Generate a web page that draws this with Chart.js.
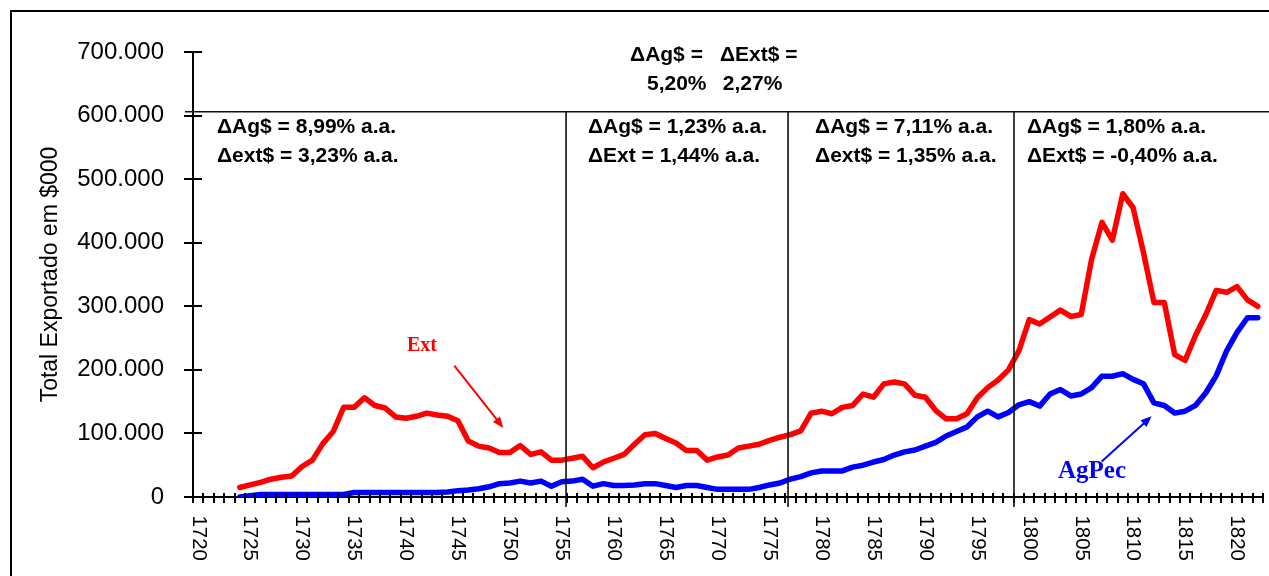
<!DOCTYPE html>
<html><head><meta charset="utf-8">
<script src="https://cdn.jsdelivr.net/npm/chart.js@4.4.1/dist/chart.umd.min.js"></script>
<style>
html,body{margin:0;padding:0;background:#fff;overflow:hidden;}
#wrap{position:relative;width:1269px;height:576px;overflow:hidden;}
#frame{position:absolute;left:10px;top:10px;width:1400px;height:700px;border-left:2px solid #000;border-top:2px solid #000;pointer-events:none;}
canvas{position:absolute;left:0;top:0;}
</style></head><body>
<div id="wrap"><canvas id="c" width="1269" height="576"></canvas><div id="frame"></div></div>
<script>
// ---- data ----
const years = [1720,1721,1722,1723,1724,1725,1726,1727,1728,1729,
  1730,1731,1732,1733,1734,1735,1736,1737,1738,1739,
  1740,1741,1742,1743,1744,1745,1746,1747,1748,1749,
  1750,1751,1752,1753,1754,1755,1756,1757,1758,1759,
  1760,1761,1762,1763,1764,1765,1766,1767,1768,1769,
  1770,1771,1772,1773,1774,1775,1776,1777,1778,1779,
  1780,1781,1782,1783,1784,1785,1786,1787,1788,1789,
  1790,1791,1792,1793,1794,1795,1796,1797,1798,1799,
  1800,1801,1802,1803,1804,1805,1806,1807,1808,1809,
  1810,1811,1812,1813,1814,1815,1816,1817,1818,1819,
  1820,1821,1822];

const extValues = [null,null,null,null,15000,19000,23000,28000,31000,33000,
  48000,58000,84000,103000,141000,141000,156000,144000,140000,126000,
  124000,127000,132000,129000,127000,120000,88000,80000,77000,70000,
  70000,81000,67000,71000,58000,58000,61000,64000,46000,55000,
  61000,67000,83000,98000,100000,92000,85000,73000,73000,58000,
  63000,66000,77000,80000,83000,89000,94000,98000,104000,132000,
  135000,131000,141000,144000,162000,157000,178000,181000,178000,160000,
  157000,136000,123000,123000,131000,156000,172000,184000,200000,230000,
  279000,272000,283000,294000,284000,287000,374000,432000,404000,477000,
  455000,384000,306000,306000,224000,215000,254000,287000,325000,322000,
  331000,310000,300000];

const agPecValues = [null,null,null,null,0,2000,4000,4000,4000,4000,
  4000,4000,4000,4000,4000,7000,7000,7000,7000,7000,
  7000,7000,7000,7000,8000,10000,11000,13000,16000,21000,
  22000,25000,22000,25000,17000,24000,25000,28000,17000,21000,
  18000,18000,19000,21000,21000,18000,15000,18000,18000,15000,
  12000,12000,12000,12000,15000,19000,22000,28000,32000,38000,
  41000,41000,41000,47000,50000,55000,59000,66000,71000,74000,
  80000,86000,96000,103000,110000,126000,135000,126000,133000,145000,
  150000,143000,162000,169000,159000,162000,172000,190000,190000,194000,
  185000,178000,148000,144000,132000,135000,144000,164000,191000,230000,
  259000,282000,282000];

const yTickValues = [0,100000,200000,300000,400000,500000,600000,700000];
const seriesNames = ['Ext', 'AgPec'];
const periodNotes = [
  ['ΔAg$ = 8,99% a.a.', 'Δext$ = 3,23% a.a.'],
  ['ΔAg$ = 1,23% a.a.', 'ΔExt = 1,44% a.a.'],
  ['ΔAg$ = 7,11% a.a.', 'Δext$ = 1,35% a.a.'],
  ['ΔAg$ = 1,80% a.a.', 'ΔExt$ = -0,40% a.a.']
];
const overallNote = [['ΔAg$ =', '5,20%'], ['ΔExt$ =', '2,27%']];

// ---- helpers ----
function fmtThousands(v){ return String(v).replace(/\B(?=(\d{3})+(?!\d))/g, '.'); }
const SANS = '"Liberation Sans", Arial, sans-serif';
const SERIF = '"Liberation Serif", "Times New Roman", serif';

function arrow(ctx, x1, y1, x2, y2, color){
  const a = Math.atan2(y2 - y1, x2 - x1), L = 11, W = 4.5;
  ctx.strokeStyle = color; ctx.fillStyle = color; ctx.lineWidth = 2;
  ctx.beginPath(); ctx.moveTo(x1, y1);
  ctx.lineTo(x2 - L * 0.8 * Math.cos(a), y2 - L * 0.8 * Math.sin(a)); ctx.stroke();
  ctx.beginPath(); ctx.moveTo(x2, y2);
  ctx.lineTo(x2 - L * Math.cos(a) + W * Math.sin(a), y2 - L * Math.sin(a) - W * Math.cos(a));
  ctx.lineTo(x2 - L * Math.cos(a) - W * Math.sin(a), y2 - L * Math.sin(a) + W * Math.cos(a));
  ctx.closePath(); ctx.fill();
}

const annotPlugin = {
  id: 'annot',
  afterDraw(chart){
    const {ctx, chartArea: ca, scales: {x, y}} = chart;
    ctx.save();
    // crossing tick marks
    ctx.strokeStyle = '#000'; ctx.lineWidth = 2;
    ctx.beginPath();
    y.ticks.forEach(t => {
      const py = Math.round(y.getPixelForValue(t.value));
      ctx.moveTo(ca.left - 9, py); ctx.lineTo(ca.left + 9, py);
    });
    const n = years.length;
    for (let i = 0; i <= n; i++) {
      const px = Math.round(x.getPixelForDecimal(i / n));
      ctx.moveTo(px, ca.bottom - 4); ctx.lineTo(px, ca.bottom + 6);
    }
    ctx.stroke();

    // period separators
    const topY = y.getPixelForValue(606000);
    ctx.lineWidth = 1.6; ctx.strokeStyle = '#111';
    ctx.beginPath();
    ctx.moveTo(ca.left - 8, topY); ctx.lineTo(chart.width, topY);
    [35.41, 56.78, 78.53].forEach(v => {
      const px = x.getPixelForValue(v);
      ctx.moveTo(px, topY); ctx.lineTo(px, ca.bottom + 10);
    });
    ctx.stroke();

    // period texts
    ctx.fillStyle = '#000';
    ctx.font = 'bold 21px ' + SANS;
    ctx.textAlign = 'left'; ctx.textBaseline = 'alphabetic';
    const noteX = [1.81, 37.52, 59.38, 79.78];
    periodNotes.forEach((lines, k) => {
      const px = x.getPixelForValue(noteX[k]);
      ctx.fillText(lines[0], px, y.getPixelForValue(573000));
      ctx.fillText(lines[1], px, y.getPixelForValue(527000));
    });
    // overall note
    const ovX = [[41.57, 43.2], [50.23, 50.5]];
    overallNote.forEach((col, k) => {
      ctx.fillText(col[0], x.getPixelForValue(ovX[k][0]), y.getPixelForValue(686000));
      ctx.fillText(col[1], x.getPixelForValue(ovX[k][1]), y.getPixelForValue(640000));
    });

    // series labels and arrows
    ctx.font = 'bold 20px ' + SERIF;
    ctx.fillStyle = '#ff0000';
    ctx.fillText(seriesNames[0], x.getPixelForValue(20.1), y.getPixelForValue(229000));
    arrow(ctx, x.getPixelForValue(24.65), y.getPixelForValue(206800),
               x.getPixelForValue(29.37), y.getPixelForValue(108700), '#ff0000');
    ctx.font = 'bold 25px ' + SERIF;
    ctx.fillStyle = '#0000ff';
    ctx.fillText(seriesNames[1], x.getPixelForValue(82.77), y.getPixelForValue(30000));
    arrow(ctx, x.getPixelForValue(86.97), y.getPixelForValue(56000),
               x.getPixelForValue(91.78), y.getPixelForValue(127000), '#0000ff');
    ctx.restore();
  }
};

new Chart(document.getElementById('c'), {
  type: 'line',
  data: {
    labels: years,
    datasets: [
      { label: seriesNames[0], data: extValues, borderColor: '#ff0000', backgroundColor: '#ff0000',
        borderWidth: 5.5, pointRadius: 0, tension: 0, borderJoinStyle: 'round', borderCapStyle: 'round', fill: false },
      { label: seriesNames[1], data: agPecValues, borderColor: '#0000ff', backgroundColor: '#0000ff',
        borderWidth: 5.5, pointRadius: 0, tension: 0, borderJoinStyle: 'round', borderCapStyle: 'round', fill: false }
    ]
  },
  options: {
    responsive: false, animation: false, devicePixelRatio: 1,
    layout: { padding: { left: 0, top: 52, right: 6, bottom: 0 } },
    plugins: { legend: { display: false }, tooltip: { enabled: false } },
    scales: {
      x: {
        type: 'category', offset: true,
        grid: { display: true, drawOnChartArea: false, drawTicks: true, tickLength: 64, tickColor: 'rgba(0,0,0,0)', offset: true },
        border: { display: true, color: '#000', width: 2 },
        ticks: {
          autoSkip: false, minRotation: -90, maxRotation: -90, padding: 0,
          color: '#000', font: { family: SANS, size: 20.5 },
          callback: function(v, i){ const yr = years[i]; return yr % 5 === 0 ? String(yr) : ''; }
        },
        afterFit: s => { s.height = 79; }
      },
      y: {
        min: 0, max: 700000,
        grid: { display: true, drawOnChartArea: false, drawTicks: false },
        border: { display: true, color: '#000', width: 2 },
        ticks: {
          stepSize: 100000, padding: 29, color: '#000', font: { family: SANS, size: 24 },
          callback: v => fmtThousands(v)
        },
        afterBuildTicks: s => { s.ticks = yTickValues.map(v => ({ value: v })); },
        title: { display: true, text: 'Total Exportado em $000', color: '#000',
                 font: { family: SANS, size: 23 }, padding: { top: 37, bottom: 0 } },
        afterFit: s => { s.width = 193; }
      }
    }
  },
  plugins: [annotPlugin]
});
</script>
</body></html>
